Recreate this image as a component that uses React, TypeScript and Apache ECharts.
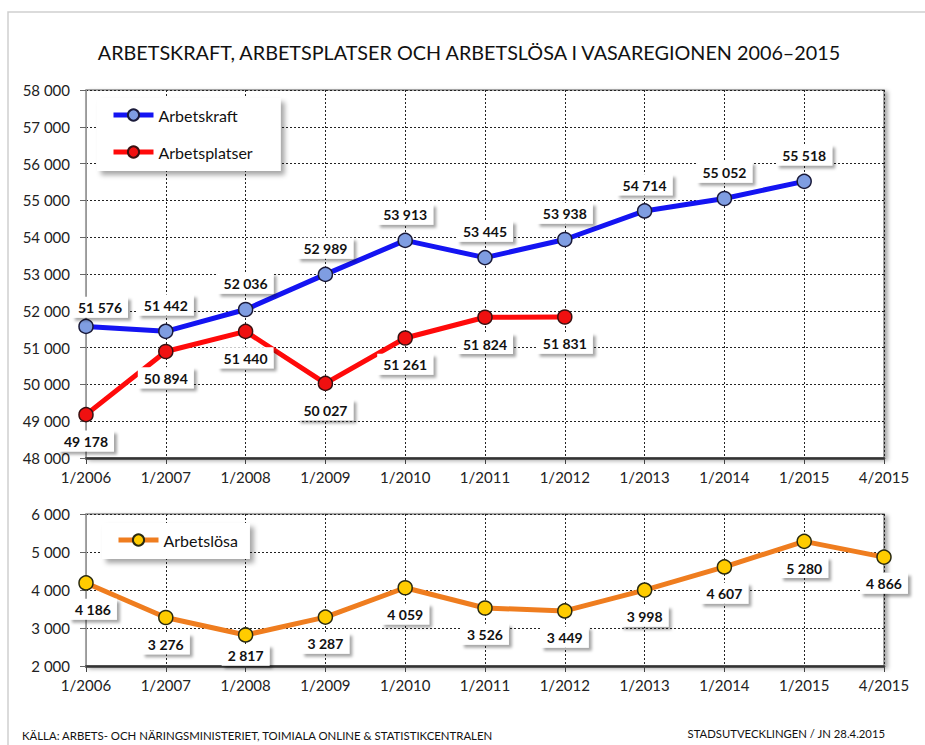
import React, { useEffect, useRef } from "react";
import * as echarts from "echarts";

const categories = ["1/2006", "1/2007", "1/2008", "1/2009", "1/2010", "1/2011", "1/2012", "1/2013", "1/2014", "1/2015", "4/2015"];
const arbetskraft = [51576, 51442, 52036, 52989, 53913, 53445, 53938, 54714, 55052, 55518];
const arbetsplatser = [49178, 50894, 51440, 50027, 51261, 51824, 51831];
const arbetslosa = [4186, 3276, 2817, 3287, 4059, 3526, 3449, 3998, 4607, 5280, 4866];

const titleText = "ARBETSKRAFT, ARBETSPLATSER OCH ARBETSLÖSA I VASAREGIONEN 2006–2015";
const sourceText = "KÄLLA: ARBETS- OCH NÄRINGSMINISTERIET, TOIMIALA ONLINE & STATISTIKCENTRALEN";
const creditText = "STADSUTVECKLINGEN / JN 28.4.2015";

const FONT = "Lato, 'Open Sans', sans-serif";

const fmt = (v: number) => String(v).replace(/\B(?=(\d{3})+(?!\d))/g, " ");

const labelBase = {
  show: true,
  fontFamily: FONT,
  fontSize: 14,
  fontWeight: "bold" as const,
  color: "#111",
  backgroundColor: "#fff",
  padding: [4, 6, 3, 6],
  shadowColor: "rgba(0,0,0,0.35)",
  shadowBlur: 3,
  shadowOffsetX: 3,
  shadowOffsetY: 3,
  distance: 8,
  formatter: (p: any) => fmt(p.value),
};

export default function App() {
  const ref = useRef<HTMLDivElement>(null);
  useEffect(() => {
    if (!ref.current) return;
    const chart = echarts.init(ref.current, null, { renderer: "svg" });

    const xAxisCommon = {
      type: "category" as const,
      boundaryGap: false,
      data: categories,
      axisLine: { lineStyle: { color: "#333", width: 2.5 } },
      axisTick: { show: true, length: 6, lineStyle: { color: "#444" } },
      axisLabel: { fontFamily: FONT, fontSize: 15, color: "#222", margin: 11 },
      splitLine: { show: true, lineStyle: { type: [2, 2], color: "#222", width: 1 } },
    };
    const yAxisCommon = {
      type: "value" as const,
      interval: 1000,
      axisLine: { show: true, lineStyle: { color: "#999", width: 1 } },
      axisTick: { show: true, length: 6, lineStyle: { color: "#666" } },
      axisLabel: { fontFamily: FONT, fontSize: 15, color: "#222", margin: 16, formatter: (v: number) => fmt(v) },
      splitLine: { show: true, lineStyle: { type: [2, 2], color: "#222", width: 1 } },
    };
    const gridCommon = {
      left: 86,
      right: 41,
      show: true,
      backgroundColor: "#fff",
      borderColor: "#8a8a8a",
      borderWidth: 1.5,
      shadowColor: "rgba(0,0,0,0.35)",
      shadowBlur: 4,
      shadowOffsetX: 3,
      shadowOffsetY: 2,
    };
    const legendCommon = {
      orient: "vertical" as const,
      itemWidth: 40,
      itemHeight: 14,
      selectedMode: false,
      backgroundColor: "#fff",
      shadowColor: "rgba(0,0,0,0.35)",
      shadowBlur: 5,
      shadowOffsetX: 4,
      shadowOffsetY: 4,
      lineStyle: { width: 5 },
      textStyle: { fontFamily: FONT, fontSize: 16, color: "#111" },
    };

    const kraftData = arbetskraft.map((v, i) => ({
      value: v,
      label: i === 0 ? { offset: [14, 7] } : {},
    }));
    const platserData = arbetsplatser.map((v) => ({ value: v }));
    const losaData = arbetslosa.map((v, i) => ({
      value: v,
      label: i === 0 ? { offset: [7, 0] } : i === 2 ? { offset: [0, -6] } : {},
    }));

    chart.setOption({
      animation: false,
      backgroundColor: "#fff",
      grid: [
        { ...gridCommon, top: 90, height: 368 },
        { ...gridCommon, top: 514, height: 152 },
      ],
      xAxis: [
        { ...xAxisCommon, gridIndex: 0 },
        { ...xAxisCommon, gridIndex: 1 },
      ],
      yAxis: [
        { ...yAxisCommon, gridIndex: 0, min: 48000, max: 58000 },
        { ...yAxisCommon, gridIndex: 1, min: 2000, max: 6000 },
      ],
      legend: [
        { ...legendCommon, data: ["Arbetskraft", "Arbetsplatser"], left: 97, top: 98, itemGap: 21, padding: [9, 28, 11, 14] },
        { ...legendCommon, data: ["Arbetslösa"], left: 102, top: 523, padding: [9, 12, 11, 14] },
      ],
      graphic: [
        {
          type: "rect",
          shape: { x: 8, y: 12, width: 940, height: 760 },
          style: { fill: "none", stroke: "#cfcfcf", lineWidth: 1.5 },
          silent: true,
          z: -1,
        },
        {
          type: "text",
          x: 469,
          y: 52,
          style: { text: titleText, fontFamily: FONT, fontSize: 19.8, fill: "#111", textAlign: "center", textVerticalAlign: "middle" },
        },
        {
          type: "text",
          x: 22,
          y: 735,
          style: { text: sourceText, fontFamily: FONT, fontSize: 11.4, fill: "#111", textAlign: "left", textVerticalAlign: "middle" },
        },
        {
          type: "text",
          x: 885,
          y: 733,
          style: { text: creditText, fontFamily: FONT, fontSize: 11.3, fill: "#111", textAlign: "right", textVerticalAlign: "middle" },
        },
      ],
      series: [
        {
          name: "Arbetskraft",
          type: "line",
          xAxisIndex: 0,
          yAxisIndex: 0,
          data: kraftData,
          symbol: "circle",
          symbolSize: 14,
          lineStyle: { color: "#1414F2", width: 5 },
          itemStyle: { color: "#7F9DE2", borderColor: "#1a1a3a", borderWidth: 1.5 },
          label: { ...labelBase, position: "top" },
          z: 3,
        },
        {
          name: "Arbetsplatser",
          type: "line",
          xAxisIndex: 0,
          yAxisIndex: 0,
          data: platserData,
          symbol: "circle",
          symbolSize: 14,
          lineStyle: { color: "#FF0A0A", width: 5 },
          itemStyle: { color: "#F01010", borderColor: "#3a1010", borderWidth: 1.5 },
          label: { ...labelBase, position: "bottom" },
          z: 3,
        },
        {
          name: "Arbetslösa",
          type: "line",
          xAxisIndex: 1,
          yAxisIndex: 1,
          data: losaData,
          symbol: "circle",
          symbolSize: 14,
          lineStyle: { color: "#EF7D1F", width: 5 },
          itemStyle: { color: "#FFCC00", borderColor: "#2a2a10", borderWidth: 1.5 },
          label: { ...labelBase, position: "bottom" },
          z: 3,
        },
      ],
    });
    return () => chart.dispose();
  }, []);
  return <div ref={ref} style={{ position: "fixed", left: 0, top: 0, width: 925, height: 745 }} />;
}
